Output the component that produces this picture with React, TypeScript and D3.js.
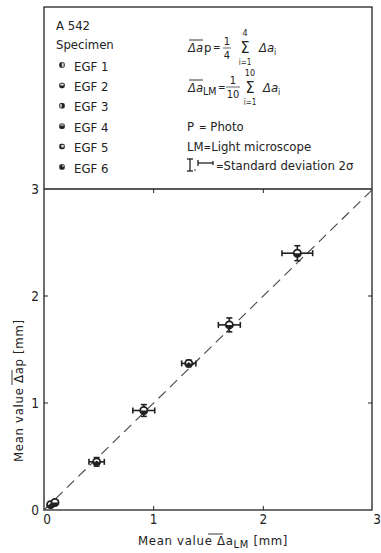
import React from "react";
import * as d3 from "d3";

// ---- data ----
const specimens = ["EGF 1", "EGF 2", "EGF 3", "EGF 4", "EGF 5", "EGF 6"];
const meanLM = [0.06, 0.1, 0.48, 0.91, 1.32, 1.69, 2.31];
const meanP = [0.05, 0.07, 0.45, 0.93, 1.37, 1.73, 2.4];
const sdLM = [0.02, 0.02, 0.07, 0.1, 0.065, 0.1, 0.14];
const sdP = [0.01, 0.01, 0.04, 0.055, 0.03, 0.065, 0.07];
const pointSpecimen = [0, 1, 2, 3, 4, 5, 5];
const xTicks = [0, 1, 2, 3];
const yTicks = [0, 1, 2, 3];

const W = 381;
const H = 553;
const FONT = "'DejaVu Sans Condensed', 'DejaVu Sans', sans-serif";
const INK = "#222";

function Marker({ cx, cy, kind }: { cx: number; cy: number; kind: number }) {
  const s = 5.5;
  const x0 = cx - s / 2;
  const y0 = cy - s / 2;
  const light = "#ddd";
  const inner: Record<number, React.ReactNode> = {
    0: <rect x={x0 + 2.5} y={y0 + 1} width={2} height={3.5} fill={light} />,
    1: <rect x={x0 + 1} y={y0 + 1} width={3.5} height={1.8} fill={light} />,
    2: <rect x={x0 + 1} y={y0 + 1} width={1.5} height={3.5} fill={light} />,
    3: <rect x={x0 + 1} y={y0 + 1} width={3.5} height={1.2} fill={light} />,
    4: <rect x={x0 + 2} y={y0 + 1} width={2.5} height={2.5} fill={light} />,
    5: <rect x={x0 + 3} y={y0 + 1} width={1.5} height={1.5} fill={light} />,
  };
  return (
    <g>
      <rect x={x0} y={y0} width={s} height={s} rx={1.8} fill={INK} />
      {inner[kind]}
    </g>
  );
}

export default function App() {
  const left = 44;
  const right = 373;
  const top = 189;
  const bottom = 510;
  const x = d3.scaleLinear().domain([0, 3]).range([left, right]);
  const y = d3.scaleLinear().domain([0, 3]).range([bottom, top]);

  const legendY0 = 66;
  const legendStep = 20.4;

  const diag = d3.line<number>()
    .x((d) => x(d))
    .y((d) => y(d))([0, 3]);

  const txt = { fontFamily: FONT, fill: INK } as React.CSSProperties;

  return (
    <svg
      width={W}
      height={H}
      style={{ position: "absolute", left: 0, top: 0, background: "#fff" }}
    >
      <rect width={W} height={H} fill="#fff" />
      {/* legend box */}
      <rect x={left} y={7} width={right - 1 - left} height={bottom - 7} fill="none" stroke={INK} strokeWidth={1.3} />
      {/* plot frame top line */}
      <line x1={left} x2={right - 1} y1={top} y2={top} stroke={INK} strokeWidth={1.3} />

      {/* ticks (inward on all four sides) */}
      {xTicks.slice(1, 3).map((t) => (
        <g key={"xt" + t}>
          <line x1={x(t)} x2={x(t)} y1={bottom} y2={bottom - 4} stroke={INK} strokeWidth={1} />
          <line x1={x(t)} x2={x(t)} y1={top} y2={top + 4} stroke={INK} strokeWidth={1} />
        </g>
      ))}
      {yTicks.slice(1, 3).map((t) => (
        <g key={"yt" + t}>
          <line x1={left} x2={left + 4} y1={y(t)} y2={y(t)} stroke={INK} strokeWidth={1} />
          <line x1={right - 1} x2={right - 5} y1={y(t)} y2={y(t)} stroke={INK} strokeWidth={1} />
        </g>
      ))}

      {/* tick labels */}
      {xTicks.map((t) => (
        <text key={"xl" + t} x={x(t) + (t === 0 ? 3 : t === 3 ? 4 : 0)} y={524} textAnchor="middle" fontSize={13.5} style={txt}>
          {d3.format("d")(t)}
        </text>
      ))}
      {yTicks.map((t) => (
        <text key={"yl" + t} x={left - 5} y={y(t) + 5} textAnchor="end" fontSize={13.5} style={txt}>
          {d3.format("d")(t)}
        </text>
      ))}

      {/* axis titles */}
      <text x={138} y={545} fontSize={13} letterSpacing={0.7} style={txt}>
        Mean value <tspan>Δa</tspan>
        <tspan dy={3} fontSize={11}>LM</tspan>
        <tspan dy={-3}> [mm]</tspan>
      </text>
      <line x1={208} x2={223} y1={534} y2={534} stroke={INK} strokeWidth={0.9} />
      <g transform="translate(23,462) rotate(-90)">
        <text x={0} y={0} fontSize={13} letterSpacing={0.7} style={txt}>
          Mean value Δap [mm]
        </text>
        <line x1={77} x2={92} y1={-11} y2={-11} stroke={INK} strokeWidth={0.9} />
      </g>

      {/* diagonal */}
      <path d={diag || ""} fill="none" stroke="#444" strokeWidth={1.1} strokeDasharray="10 6" />

      {/* data points with error bars */}
      {meanLM.map((v, i) => {
        const cx = x(v);
        const cy = y(meanP[i]);
        const x1 = x(v - sdLM[i]);
        const x2 = x(v + sdLM[i]);
        const y1 = y(meanP[i] - sdP[i]);
        const y2 = y(meanP[i] + sdP[i]);
        return (
          <g key={"p" + i} stroke={INK} strokeWidth={1.6}>
            <line x1={x1} x2={x2} y1={cy} y2={cy} />
            <line x1={x1} x2={x1} y1={cy - 3} y2={cy + 3} />
            <line x1={x2} x2={x2} y1={cy - 3} y2={cy + 3} />
            <line x1={cx} x2={cx} y1={y1} y2={y2} />
            <line x1={cx - 3} x2={cx + 3} y1={y1} y2={y1} />
            <line x1={cx - 3} x2={cx + 3} y1={y2} y2={y2} />
            <circle cx={cx} cy={cy} r={3.6} fill="#fff" strokeWidth={1.8} />
            <path d={`M${cx - 3.6},${cy} A3.6,3.6 0 0 0 ${cx + 3.6},${cy} Z`} fill={INK} strokeWidth={0} />
            {pointSpecimen[i] % 2 === 0 && <circle cx={cx} cy={cy} r={1.2} fill={INK} strokeWidth={0} />}
          </g>
        );
      })}

      {/* legend: specimens */}
      <text x={56} y={30} fontSize={13} style={txt}>A 542</text>
      <text x={56} y={49} fontSize={13} style={txt}>Specimen</text>
      {specimens.map((s, i) => (
        <g key={s}>
          <Marker cx={62} cy={legendY0 + i * legendStep - 1} kind={i} />
          <text x={74} y={legendY0 + i * legendStep + 4.5} fontSize={13} style={txt}>{s}</text>
        </g>
      ))}

      {/* formula 1 */}
      <g style={txt}>
        <text x={188} y={52} fontSize={13} fontStyle="italic">Δa</text>
        <line x1={189} x2={203} y1={40} y2={40} stroke={INK} strokeWidth={0.9} />
        <text x={204} y={52} fontSize={13}>p</text>
        <text x={213} y={51} fontSize={10}>=</text>
        <text x={227} y={45} fontSize={11} textAnchor="middle">1</text>
        <line x1={223} x2={231} y1={48} y2={48} stroke={INK} strokeWidth={0.7} />
        <text x={227} y={59} fontSize={11} textAnchor="middle">4</text>
        <text x={245} y={36} fontSize={9} textAnchor="middle">4</text>
        <text x={245} y={53} fontSize={16} textAnchor="middle">Σ</text>
        <text x={245} y={65} fontSize={8} textAnchor="middle">i=1</text>
        <text x={259} y={52} fontSize={13} fontStyle="italic">Δa</text>
        <text x={274} y={55} fontSize={9}>i</text>
      </g>

      {/* formula 2 */}
      <g style={txt}>
        <text x={188} y={92} fontSize={13} fontStyle="italic">Δa</text>
        <line x1={189} x2={203} y1={80} y2={80} stroke={INK} strokeWidth={0.9} />
        <text x={203} y={95} fontSize={10.5}>LM</text>
        <text x={218} y={91} fontSize={10}>=</text>
        <text x={233} y={84} fontSize={11} textAnchor="middle">1</text>
        <line x1={226} x2={240} y1={87} y2={87} stroke={INK} strokeWidth={0.7} />
        <text x={233} y={98} fontSize={11} textAnchor="middle">10</text>
        <text x={250} y={76} fontSize={9} textAnchor="middle">10</text>
        <text x={250} y={93} fontSize={16} textAnchor="middle">Σ</text>
        <text x={250} y={105} fontSize={8} textAnchor="middle">i=1</text>
        <text x={263} y={92} fontSize={13} fontStyle="italic">Δa</text>
        <text x={278} y={95} fontSize={9}>i</text>
      </g>

      {/* definitions */}
      <text x={187} y={131} fontSize={13} style={txt}>P<tspan dx={5} fontSize={10}>=</tspan> Photo</text>
      <text x={187} y={151} fontSize={13} style={txt}>LM<tspan fontSize={10}>=</tspan>Light microscope</text>
      <g stroke={INK} strokeWidth={1.3}>
        <line x1={190} x2={190} y1={159} y2={171} />
        <line x1={187} x2={193} y1={159} y2={159} />
        <line x1={187} x2={193} y1={171} y2={171} />
        <line x1={198} x2={213} y1={163} y2={163} />
        <line x1={198} x2={198} y1={160} y2={166} />
        <line x1={213} x2={213} y1={161} y2={165} />
      </g>
      <circle cx={195} cy={170} r={0.8} fill={INK} />
      <text x={216} y={170} fontSize={13} style={txt}><tspan fontSize={10}>=</tspan>Standard deviation 2σ</text>
    </svg>
  );
}
